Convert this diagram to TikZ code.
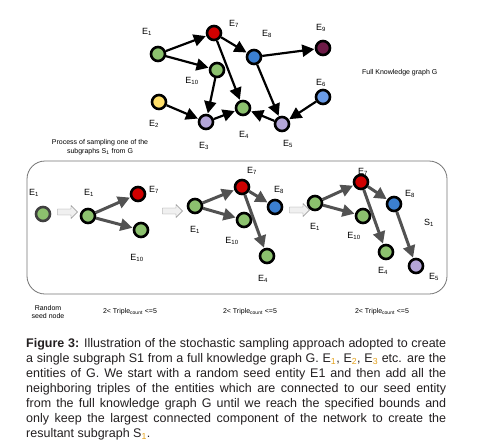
\documentclass[tikz,border=0pt]{standalone}
\usepackage{fontspec}
\setmainfont{Liberation Sans}
\usetikzlibrary{arrows.meta,shapes.arrows}

\definecolor{entgreen}{HTML}{8CC16E}
\definecolor{entred}{HTML}{D00000}
\definecolor{entblue}{HTML}{3B7FD0}
\definecolor{entplum}{HTML}{6E1B47}
\definecolor{entyellow}{HTML}{FFDF6A}
\definecolor{entlilac}{HTML}{B4A6D8}
\definecolor{entsky}{HTML}{6A9BE6}
\definecolor{capgray}{HTML}{231F20}
\definecolor{subgold}{HTML}{E5A11B}

\newcommand{\ent}[1]{E\textsubscript{#1}}

\begin{document}
\begin{tikzpicture}[x=1pt,y=-1pt,
  ent/.style={circle,draw=black,line width=2.6pt,minimum size=14pt,inner sep=0pt},
  lab/.style={font=\fontsize{9}{10}\selectfont,inner sep=0pt},
  small/.style={font=\fontsize{7}{8.5}\selectfont,inner sep=0pt,align=center},
  full/.style={-{Triangle[length=12pt,width=12pt]},line width=2.2pt,black,shorten >=0.5pt},
  samp/.style={-{Triangle[length=12pt,width=12pt]},line width=3pt,black!68,shorten >=0.5pt},
  step arrow/.style={single arrow,draw=black!45,fill=black!6,minimum height=20pt,
    minimum width=13pt,single arrow head extend=2pt,inner sep=1.5pt}]
  \useasboundingbox (0,0) rectangle (481,447);

  % full knowledge graph G
  \node[ent,fill=entgreen]  (e1)  at (158,54)  {};
  \node[ent,fill=entred]    (e7)  at (214,33)  {};
  \node[ent,fill=entblue]   (e8)  at (254,57)  {};
  \node[ent,fill=entplum]   (e9)  at (323,48)  {};
  \node[ent,fill=entgreen]  (e10) at (217,70)  {};
  \node[ent,fill=entyellow] (e2)  at (159,102) {};
  \node[ent,fill=entlilac]  (e3)  at (206,122) {};
  \node[ent,fill=entgreen]  (e4)  at (243,108) {};
  \node[ent,fill=entlilac]  (e5)  at (282,124) {};
  \node[ent,fill=entsky]    (e6)  at (323,97)  {};

  \node[lab] (le1)  at (147,32)  {\ent{1}};
  \node[lab] (le7)  at (234,24)  {\ent{7}};
  \node[lab] (le8)  at (267,34)  {\ent{8}};
  \node[lab] (le9)  at (321,28)  {\ent{9}};
  \node[lab] (le10) at (192,81)  {\ent{10}};
  \node[lab] (le2)  at (154,124) {\ent{2}};
  \node[lab] (le3)  at (204,146) {\ent{3}};
  \node[lab] (le4)  at (244,135) {\ent{4}};
  \node[lab] (le5)  at (288,144) {\ent{5}};
  \node[lab] (le6)  at (321,83)  {\ent{6}};

  \draw[full] (e1) -- (e7);
  \draw[full] (e1) -- (e10);
  \draw[full] (e7) -- (e8);
  \draw[full] (e7) -- (e4);
  \draw[full] (e8) -- (e9);
  \draw[full] (e8) -- (e5);
  \draw[full] (e10) -- (e3);
  \draw[full] (e2) -- (e3);
  \draw[full] (e3) -- (e4);
  \draw[full] (e5) -- (e4);
  \draw[full] (e6) -- (e5);

  \node[small,anchor=west] (fullg) at (362,73) {Full Knowledge graph G};
  \node[small] (proc) at (100,147) {Process of sampling\ one of the\\subgraphs S\textsubscript{1} from G};

  % sampling box
  \draw[black!55,line width=0.8pt,rounded corners=18pt] (27,161) rectangle (447,294);

  % stage 1
  \node[ent,fill=entgreen,draw=black!75] (a1) at (43,214) {};
  \node[lab] (la1) at (34,193) {\ent{1}};
  \node[step arrow] (s1) at (66,212) {};

  % stage 2
  \node[ent,fill=entgreen] (b1)  at (88,216)  {};
  \node[ent,fill=entred]   (b7)  at (138,194) {};
  \node[ent,fill=entgreen] (b10) at (141,230) {};
  \node[lab] (lb1)  at (89,193)  {\ent{1}};
  \node[lab] (lb7)  at (154,190) {\ent{7}};
  \node[lab] (lb10) at (137,258) {\ent{10}};
  \draw[samp] (b1) -- (b7);
  \draw[samp] (b1) -- (b10);
  \node[step arrow] (s2) at (171,211) {};

  % stage 3
  \node[ent,fill=entgreen] (c1)  at (195,206) {};
  \node[ent,fill=entred]   (c7)  at (242,187) {};
  \node[ent,fill=entgreen] (c10) at (244,220) {};
  \node[ent,fill=entblue]  (c8)  at (275,207) {};
  \node[ent,fill=entgreen] (c4)  at (267,256) {};
  \node[lab] (lc1)  at (195,230) {\ent{1}};
  \node[lab] (lc7)  at (252,171) {\ent{7}};
  \node[lab] (lc10) at (232,241) {\ent{10}};
  \node[lab] (lc8)  at (279,190) {\ent{8}};
  \node[lab] (lc4)  at (263,279) {\ent{4}};
  \draw[samp] (c1) -- (c7);
  \draw[samp] (c1) -- (c10);
  \draw[samp] (c7) -- (c8);
  \draw[samp] (c7) -- (c4);
  \node[step arrow] (s3) at (298,210) {};

  % stage 4
  \node[ent,fill=entgreen] (d1)  at (315,203) {};
  \node[ent,fill=entred]   (d7)  at (361,182) {};
  \node[ent,fill=entgreen] (d10) at (363,216) {};
  \node[ent,fill=entblue]  (d8)  at (394,204) {};
  \node[ent,fill=entgreen] (d4)  at (386,252) {};
  \node[ent,fill=entlilac] (d5)  at (416,266) {};
  \node[lab] (ld1)  at (315,227) {\ent{1}};
  \node[lab] (ld7)  at (363,172) {\ent{7}};
  \node[lab] (ld10) at (354,236) {\ent{10}};
  \node[lab] (ld8)  at (410,194) {\ent{8}};
  \node[lab] (ld4)  at (383,271) {\ent{4}};
  \node[lab] (ld5)  at (434,277) {\ent{5}};
  \node[lab] (ls1)  at (429,223) {S\textsubscript{1}};
  \draw[samp] (d1) -- (d7);
  \draw[samp] (d1) -- (d10);
  \draw[samp] (d7) -- (d8);
  \draw[samp] (d7) -- (d4);
  \draw[samp] (d8) -- (d5);

  % bounds
  \node[small] (seed) at (48,312) {Random\\seed node};
  \node[small] (t1) at (130,312) {2< Triple\textsubscript{count} <=5};
  \node[small] (t2) at (250,312) {2< Triple\textsubscript{count} <=5};
  \node[small] (t3) at (382,312) {2< Triple\textsubscript{count} <=5};

  % caption
  \node[anchor=north west,inner sep=0pt,text width=420pt,align=justify,text=capgray,
    font=\fontsize{12.5}{15}\selectfont] (cap) at (26,338) {%
    \textbf{Figure 3:} Illustration of the stochastic sampling approach adopted to create\linebreak
    a single subgraph S1 from a full knowledge graph G. E\textsubscript{\color{subgold}1}, E\textsubscript{\color{subgold}2}, E\textsubscript{\color{subgold}3} etc. are the\linebreak
    entities of G. We start with a random seed entity E1 and then add all the\linebreak
    neighboring triples of the entities which are connected to our seed entity\linebreak
    from the full knowledge graph G until we reach the specified bounds and\linebreak
    only keep the largest connected component of the network to create the\linebreak
    resultant subgraph S\textsubscript{\color{subgold}1}.};
\end{tikzpicture}
\end{document}
